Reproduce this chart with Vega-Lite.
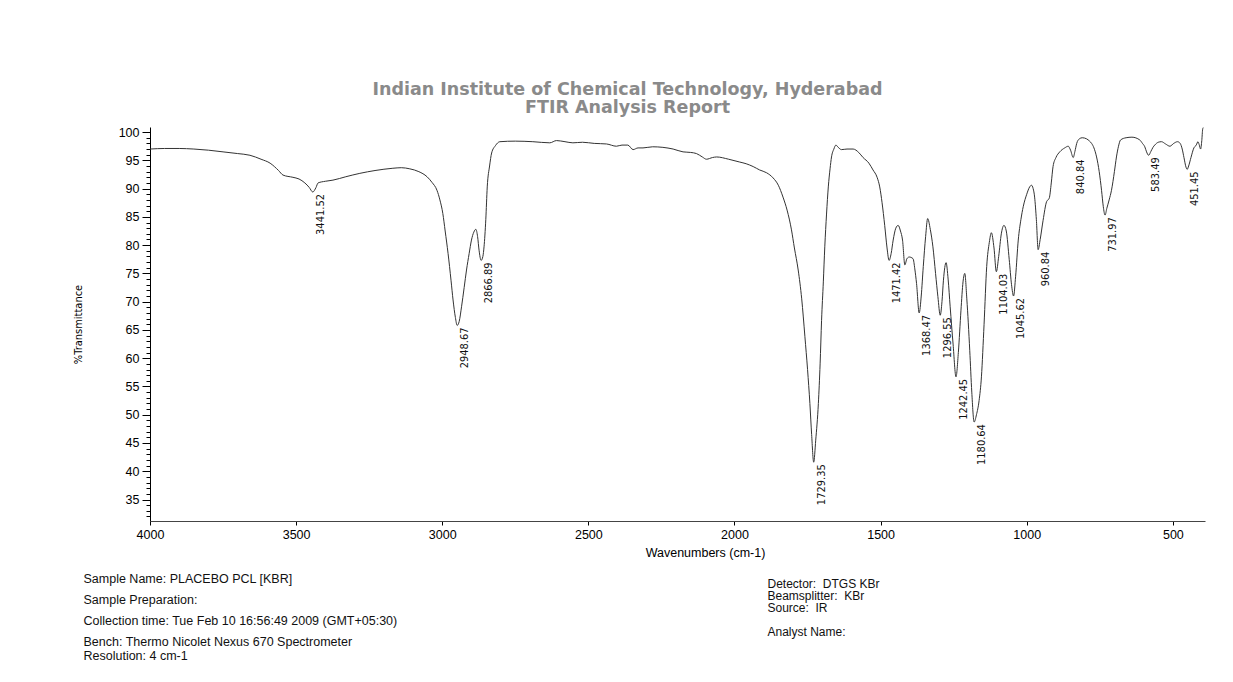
{
  "$schema": "https://vega.github.io/schema/vega-lite/v6.json",
  "width": 1055,
  "height": 394,
  "autosize": {"type": "none"},
  "padding": {"left": 150, "top": 127, "right": 28, "bottom": 161},
  "background": "white",
  "title": {
    "text": ["Indian Institute of Chemical Technology, Hyderabad", "FTIR Analysis Report"],
    "font": "DejaVu Sans",
    "fontSize": 17.5,
    "fontWeight": "bold",
    "color": "#8a8a8a",
    "lineHeight": 18,
    "anchor": "middle",
    "baseline": "bottom",
    "dx": -50,
    "dy": 22,
    "offset": 13
  },
  "config": {
    "view": {"stroke": null},
    "axis": {"grid": false, "labelColor": "#000000", "tickColor": "#000000", "domainColor": "#000000", "titleColor": "#000000", "labelFont": "Liberation Sans", "titleFont": "Liberation Sans"}
  },
  "datasets": {
    "spectrum": [
      {"w": 4000, "t": 97.0}, {"w": 3950, "t": 97.1}, {"w": 3900, "t": 97.1}, {"w": 3850, "t": 97.0},
      {"w": 3800, "t": 96.8}, {"w": 3750, "t": 96.5}, {"w": 3700, "t": 96.2}, {"w": 3658, "t": 95.9},
      {"w": 3620, "t": 95.2}, {"w": 3589, "t": 94.5}, {"w": 3560, "t": 93.2}, {"w": 3545, "t": 92.4},
      {"w": 3511, "t": 92.0}, {"w": 3490, "t": 91.7}, {"w": 3470, "t": 91.0}, {"w": 3455, "t": 90.2},
      {"w": 3443, "t": 89.4}, {"w": 3432, "t": 90.2}, {"w": 3425, "t": 91.0}, {"w": 3400, "t": 91.3},
      {"w": 3374, "t": 91.5}, {"w": 3330, "t": 92.1}, {"w": 3282, "t": 92.7}, {"w": 3230, "t": 93.2},
      {"w": 3169, "t": 93.6}, {"w": 3140, "t": 93.7}, {"w": 3111, "t": 93.5}, {"w": 3080, "t": 93.0},
      {"w": 3052, "t": 92.1}, {"w": 3035, "t": 91.1}, {"w": 3018, "t": 89.7}, {"w": 3008, "t": 88.0},
      {"w": 2998, "t": 85.6}, {"w": 2990, "t": 82.5}, {"w": 2980, "t": 78.5}, {"w": 2970, "t": 73.8},
      {"w": 2963, "t": 70.3}, {"w": 2955, "t": 67.2}, {"w": 2949, "t": 65.8}, {"w": 2942, "t": 66.5},
      {"w": 2934, "t": 69.1}, {"w": 2925, "t": 72.5}, {"w": 2917, "t": 75.6}, {"w": 2908, "t": 78.5},
      {"w": 2900, "t": 80.9}, {"w": 2892, "t": 82.3}, {"w": 2885, "t": 82.8}, {"w": 2879, "t": 81.5},
      {"w": 2874, "t": 79.1}, {"w": 2867, "t": 77.3}, {"w": 2861, "t": 78.0}, {"w": 2857, "t": 79.7},
      {"w": 2851, "t": 84.5}, {"w": 2846, "t": 90.3}, {"w": 2838, "t": 94.0}, {"w": 2831, "t": 96.3},
      {"w": 2818, "t": 97.6}, {"w": 2803, "t": 98.3}, {"w": 2750, "t": 98.4}, {"w": 2690, "t": 98.3},
      {"w": 2632, "t": 98.1}, {"w": 2609, "t": 98.5}, {"w": 2580, "t": 98.3}, {"w": 2553, "t": 98.1},
      {"w": 2520, "t": 98.2}, {"w": 2480, "t": 98.0}, {"w": 2438, "t": 97.9}, {"w": 2404, "t": 97.5},
      {"w": 2385, "t": 97.7}, {"w": 2365, "t": 97.7}, {"w": 2347, "t": 96.9}, {"w": 2330, "t": 97.2},
      {"w": 2313, "t": 97.2}, {"w": 2280, "t": 97.4}, {"w": 2245, "t": 97.3}, {"w": 2210, "t": 97.0},
      {"w": 2176, "t": 96.5}, {"w": 2150, "t": 96.4}, {"w": 2130, "t": 96.2}, {"w": 2110, "t": 95.6},
      {"w": 2096, "t": 95.2}, {"w": 2075, "t": 95.5}, {"w": 2061, "t": 95.6}, {"w": 2020, "t": 95.2},
      {"w": 1982, "t": 94.7}, {"w": 1960, "t": 94.4}, {"w": 1936, "t": 93.9}, {"w": 1914, "t": 93.3},
      {"w": 1890, "t": 92.8}, {"w": 1868, "t": 91.9}, {"w": 1850, "t": 90.6}, {"w": 1834, "t": 88.5},
      {"w": 1820, "t": 86.2}, {"w": 1805, "t": 82.7}, {"w": 1795, "t": 79.5}, {"w": 1782, "t": 75.6},
      {"w": 1770, "t": 70.5}, {"w": 1759, "t": 63.8}, {"w": 1750, "t": 58.0}, {"w": 1742, "t": 52.0},
      {"w": 1736, "t": 46.5}, {"w": 1729, "t": 41.6}, {"w": 1722, "t": 45.5}, {"w": 1713, "t": 52.0},
      {"w": 1707, "t": 59.0}, {"w": 1702, "t": 66.7}, {"w": 1696, "t": 73.5}, {"w": 1691, "t": 79.7},
      {"w": 1685, "t": 85.5}, {"w": 1679, "t": 90.3}, {"w": 1673, "t": 93.5}, {"w": 1668, "t": 95.6},
      {"w": 1660, "t": 97.0}, {"w": 1653, "t": 97.7}, {"w": 1645, "t": 97.3}, {"w": 1634, "t": 96.9},
      {"w": 1615, "t": 97.0}, {"w": 1594, "t": 97.0}, {"w": 1575, "t": 96.4}, {"w": 1560, "t": 95.5},
      {"w": 1540, "t": 94.5}, {"w": 1526, "t": 93.3}, {"w": 1512, "t": 92.0}, {"w": 1503, "t": 90.3},
      {"w": 1495, "t": 87.5}, {"w": 1486, "t": 83.5}, {"w": 1478, "t": 79.5}, {"w": 1471, "t": 77.3},
      {"w": 1464, "t": 78.5}, {"w": 1457, "t": 80.9}, {"w": 1448, "t": 83.0}, {"w": 1440, "t": 83.5},
      {"w": 1432, "t": 82.5}, {"w": 1425, "t": 80.9}, {"w": 1417, "t": 76.5}, {"w": 1410, "t": 77.6},
      {"w": 1402, "t": 77.9}, {"w": 1389, "t": 77.6}, {"w": 1383, "t": 75.8}, {"w": 1377, "t": 73.2},
      {"w": 1368, "t": 68.0}, {"w": 1361, "t": 71.0}, {"w": 1354, "t": 76.2}, {"w": 1346, "t": 81.5},
      {"w": 1339, "t": 84.7}, {"w": 1330, "t": 82.8}, {"w": 1321, "t": 79.7}, {"w": 1312, "t": 75.0},
      {"w": 1304, "t": 70.9}, {"w": 1296, "t": 67.6}, {"w": 1290, "t": 70.0}, {"w": 1285, "t": 73.8},
      {"w": 1276, "t": 76.9}, {"w": 1269, "t": 74.0}, {"w": 1262, "t": 69.1}, {"w": 1252, "t": 62.5},
      {"w": 1242, "t": 56.7}, {"w": 1234, "t": 61.0}, {"w": 1225, "t": 68.5}, {"w": 1218, "t": 73.5},
      {"w": 1212, "t": 75.0}, {"w": 1205, "t": 70.5}, {"w": 1195, "t": 61.4}, {"w": 1188, "t": 54.0},
      {"w": 1180, "t": 48.7}, {"w": 1172, "t": 50.0}, {"w": 1163, "t": 52.5}, {"w": 1155, "t": 56.7},
      {"w": 1146, "t": 66.0}, {"w": 1137, "t": 76.2}, {"w": 1128, "t": 80.5}, {"w": 1121, "t": 82.2},
      {"w": 1112, "t": 79.5}, {"w": 1104, "t": 75.3}, {"w": 1096, "t": 78.0}, {"w": 1087, "t": 82.0},
      {"w": 1078, "t": 83.5}, {"w": 1070, "t": 82.5}, {"w": 1060, "t": 77.5}, {"w": 1052, "t": 73.0},
      {"w": 1045, "t": 71.0}, {"w": 1038, "t": 74.5}, {"w": 1029, "t": 80.9}, {"w": 1020, "t": 84.5},
      {"w": 1012, "t": 86.8}, {"w": 1000, "t": 89.0}, {"w": 990, "t": 90.3}, {"w": 984, "t": 90.6},
      {"w": 978, "t": 90.0}, {"w": 973, "t": 88.5}, {"w": 967, "t": 84.5}, {"w": 961, "t": 79.2},
      {"w": 954, "t": 81.0}, {"w": 944, "t": 84.4}, {"w": 932, "t": 87.7}, {"w": 923, "t": 88.3},
      {"w": 916, "t": 91.0}, {"w": 910, "t": 93.9}, {"w": 900, "t": 95.5}, {"w": 887, "t": 96.5},
      {"w": 870, "t": 97.2}, {"w": 858, "t": 97.5}, {"w": 850, "t": 96.8}, {"w": 841, "t": 95.5},
      {"w": 835, "t": 96.6}, {"w": 829, "t": 98.0}, {"w": 820, "t": 98.8}, {"w": 810, "t": 99.0},
      {"w": 795, "t": 98.8}, {"w": 785, "t": 98.4}, {"w": 778, "t": 98.0}, {"w": 770, "t": 97.2},
      {"w": 761, "t": 95.6}, {"w": 752, "t": 93.0}, {"w": 744, "t": 89.7}, {"w": 738, "t": 86.8},
      {"w": 732, "t": 85.3}, {"w": 726, "t": 86.5}, {"w": 718, "t": 88.0}, {"w": 710, "t": 89.7},
      {"w": 700, "t": 93.0}, {"w": 693, "t": 95.6}, {"w": 686, "t": 97.5}, {"w": 679, "t": 98.6},
      {"w": 660, "t": 99.0}, {"w": 640, "t": 99.1}, {"w": 613, "t": 98.6}, {"w": 604, "t": 98.0},
      {"w": 596, "t": 97.4}, {"w": 590, "t": 96.5}, {"w": 583, "t": 95.9}, {"w": 575, "t": 96.6},
      {"w": 568, "t": 97.3}, {"w": 562, "t": 97.7}, {"w": 550, "t": 98.2}, {"w": 539, "t": 98.3},
      {"w": 525, "t": 97.9}, {"w": 510, "t": 97.5}, {"w": 497, "t": 98.0}, {"w": 484, "t": 98.3},
      {"w": 475, "t": 98.0}, {"w": 468, "t": 97.0}, {"w": 462, "t": 95.5}, {"w": 455, "t": 93.8},
      {"w": 451, "t": 93.4}, {"w": 446, "t": 94.0}, {"w": 438, "t": 95.5}, {"w": 428, "t": 97.2},
      {"w": 420, "t": 97.7}, {"w": 414, "t": 98.3}, {"w": 410, "t": 97.8}, {"w": 405, "t": 97.0},
      {"w": 401, "t": 98.5}, {"w": 398, "t": 100.5}, {"w": 396, "t": 100.8}
    ],
    "peaks": [
      {"w": 3441.52, "t": 89.4, "label": "3441.52"},
      {"w": 2948.67, "t": 65.8, "label": "2948.67"},
      {"w": 2866.89, "t": 77.3, "label": "2866.89"},
      {"w": 1729.35, "t": 41.6, "label": "1729.35"},
      {"w": 1471.42, "t": 77.3, "label": "1471.42"},
      {"w": 1368.47, "t": 68.0, "label": "1368.47"},
      {"w": 1296.55, "t": 67.6, "label": "1296.55"},
      {"w": 1242.45, "t": 56.7, "label": "1242.45"},
      {"w": 1180.64, "t": 48.7, "label": "1180.64"},
      {"w": 1104.03, "t": 75.3, "label": "1104.03"},
      {"w": 1045.62, "t": 71.0, "label": "1045.62"},
      {"w": 960.84, "t": 79.2, "label": "960.84"},
      {"w": 840.84, "t": 95.5, "label": "840.84"},
      {"w": 731.97, "t": 85.3, "label": "731.97"},
      {"w": 583.49, "t": 95.9, "label": "583.49"},
      {"w": 451.45, "t": 93.4, "label": "451.45"}
    ]
  },
  "resolve": {"axis": {"x": "independent", "y": "independent"}},
  "layer": [
    {
      "data": {"name": "spectrum"},
      "mark": {"type": "line", "color": "#333333", "strokeWidth": 1, "interpolate": "monotone"},
      "encoding": {
        "x": {
          "field": "w", "type": "quantitative",
          "scale": {"domain": [390, 4000], "reverse": true, "nice": false, "zero": false},
          "axis": {
            "orient": "bottom",
            "values": [4000, 3500, 3000, 2500, 2000, 1500, 1000, 500],
            "format": "d",
            "tickSize": 4, "labelPadding": 3, "labelFontSize": 12.5, "labelFlush": false,
            "domainWidth": 1.2, "domainColor": "#444444",
            "title": "Wavenumbers (cm-1)", "titleFontSize": 12.5, "titleFontWeight": "normal",
            "titleX": 555, "titleY": 35, "titleAlign": "center", "titleBaseline": "alphabetic"
          }
        },
        "y": {
          "field": "t", "type": "quantitative",
          "scale": {"domain": [31.2, 100.9], "nice": false, "zero": false},
          "axis": {
            "orient": "left",
            "values": [32,33,34,35,36,37,38,39,40,41,42,43,44,45,46,47,48,49,50,51,52,53,54,55,56,57,58,59,60,61,62,63,64,65,66,67,68,69,70,71,72,73,74,75,76,77,78,79,80,81,82,83,84,85,86,87,88,89,90,91,92,93,94,95,96,97,98,99,100],
            "labelExpr": "datum.value % 5 === 0 ? datum.label : ''",
            "tickSize": {"condition": {"test": "datum.value % 5 === 0", "value": 8}, "value": 4},
            "labelFontSize": 12.5, "labelPadding": 3, "labelFlush": false, "labelOverlap": false,
            "title": "%Transmittance",
            "titleFont": "Liberation Sans Narrow, Arial Narrow, DejaVu Sans Condensed, Liberation Sans",
            "titleFontSize": 11, "titleFontWeight": "normal",
            "titleX": -72, "titleY": 197, "titleAlign": "center", "titleBaseline": "middle", "titleAngle": -90
          }
        }
      }
    },
    {
      "data": {"name": "peaks"},
      "transform": [{"filter": "datum.w > 1400"}],
      "mark": {
        "type": "text", "angle": -90, "align": "right", "baseline": "middle",
        "dx": -2, "dy": 8, "fontSize": 11, "color": "#111111",
        "font": "Liberation Sans Narrow, Arial Narrow, DejaVu Sans Condensed, Liberation Sans"
      },
      "encoding": {
        "x": {
          "field": "w", "type": "quantitative",
          "axis": {
            "orient": "bottom", "domain": false, "ticks": false, "labels": false,
            "title": ["Sample Name: PLACEBO PCL [KBR]", "Sample Preparation:", "Collection time: Tue Feb 10 16:56:49 2009 (GMT+05:30)", "Bench: Thermo Nicolet Nexus 670 Spectrometer"],
            "titleX": -67, "titleY": 61, "titleAlign": "left", "titleBaseline": "alphabetic", "titleAngle": 0,
            "titleLineHeight": 21, "titleFontSize": 12.5, "titleFontWeight": "normal", "titleColor": "#111111"
          }
        },
        "y": {
          "field": "t", "type": "quantitative",
          "axis": {
            "orient": "left", "domain": false, "ticks": false, "labels": false,
            "title": ["Detector:\u00a0 DTGS KBr", "Beamsplitter:\u00a0 KBr", "Source:\u00a0 IR"],
            "titleX": 617, "titleY": 460, "titleAlign": "left", "titleBaseline": "alphabetic", "titleAngle": 0,
            "titleLineHeight": 12, "titleFontSize": 12, "titleFontWeight": "normal", "titleColor": "#111111"
          }
        },
        "text": {"field": "label", "type": "nominal"}
      }
    },
    {
      "data": {"name": "peaks"},
      "transform": [{"filter": "datum.w <= 1400"}],
      "mark": {
        "type": "text", "angle": -90, "align": "right", "baseline": "middle",
        "dx": -2, "dy": 8, "fontSize": 11, "color": "#111111",
        "font": "Liberation Sans Narrow, Arial Narrow, DejaVu Sans Condensed, Liberation Sans"
      },
      "encoding": {
        "x": {
          "field": "w", "type": "quantitative",
          "axis": {
            "orient": "bottom", "domain": false, "ticks": false, "labels": false,
            "title": "Resolution: 4 cm-1",
            "titleX": -67, "titleY": 138, "titleAlign": "left", "titleBaseline": "alphabetic", "titleAngle": 0,
            "titleFontSize": 12.5, "titleFontWeight": "normal", "titleColor": "#111111"
          }
        },
        "y": {
          "field": "t", "type": "quantitative",
          "axis": {
            "orient": "left", "domain": false, "ticks": false, "labels": false,
            "title": "Analyst Name:",
            "titleX": 617, "titleY": 508, "titleAlign": "left", "titleBaseline": "alphabetic", "titleAngle": 0,
            "titleFontSize": 12, "titleFontWeight": "normal", "titleColor": "#111111"
          }
        },
        "text": {"field": "label", "type": "nominal"}
      }
    }
  ]
}
